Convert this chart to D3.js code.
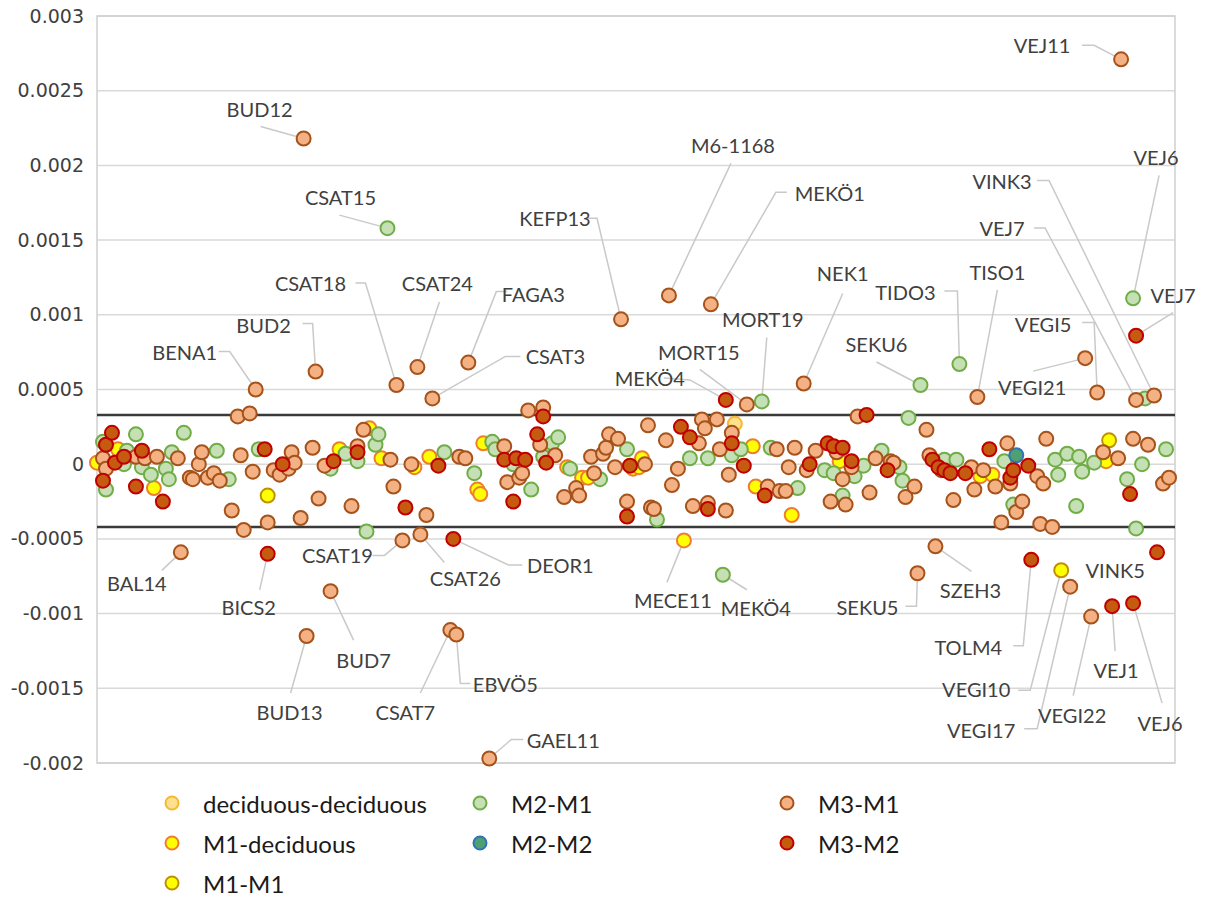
<!DOCTYPE html>
<html>
<head>
<meta charset="utf-8">
<script src="https://cdn.jsdelivr.net/npm/d3@7"></script>
<style>
  body { margin: 0; background: #fff; }
  .tick-label { font-family: 'DejaVu Sans', sans-serif; font-size: 19px; fill: #404040; }
  .note { font-family: Lato, 'Open Sans', sans-serif; font-size: 20px; fill: #404040; }
  .legend-text { font-family: Lato, 'Open Sans', sans-serif; font-size: 24px; fill: #1a1a1a; }
</style>
</head>
<body>
<script>
// series names, in legend order
var seriesNames = ['deciduous-deciduous', 'M1-deciduous', 'M1-M1', 'M2-M1', 'M2-M2', 'M3-M1', 'M3-M2'];

// [specimen index, value]
var decDec = [[213, 0.00027]];
var m1Dec = [[0, 0.00001], [7, 0.0001], [19, -0.00016], [81, 0.0001], [91, 0.00024], [95, 0.00004], [106, -0.00002],
  [111, 0.00005], [127, -0.00017], [128, -0.0002], [129, 0.00014], [157, -0.00002], [162, -0.00009], [164, -0.00009],
  [179, -0.00003], [181, -0.00002], [182, 0.00004], [196, -0.00051], [219, 0.00012], [220, -0.00015], [232, -0.00034],
  [248, 0.00002], [295, -0.00008], [299, -0.00007], [337, 0.00002]];
var m1m1 = [[57, -0.00021], [322, -0.00071], [338, 0.00016]];
var m2m1 = [[2, 0.00015], [3, -0.00017], [9, 0], [10, 0.00009], [13, 0.0002], [15, -0.00002], [18, -0.00007],
  [23, -0.00003], [24, -0.0001], [25, 0.00008], [29, 0.00021], [40, 0.00009], [44, -0.0001], [54, 0.0001],
  [78, -0.00003], [83, 0.00007], [87, 0.00002], [90, -0.00045], [93, 0.00013], [94, 0.0002], [97, 0.00158],
  [116, 0.00008], [126, -0.00006], [132, 0.00015], [133, 0.0001], [139, 0], [145, -0.00017], [149, 0.00005],
  [152, 0.00014], [154, 0.00018], [158, -0.00003], [168, -0.0001], [177, 0.0001], [187, -0.00037], [198, 0.00004],
  [204, 0.00004], [209, -0.00074], [212, 0.00006], [215, 0.0001], [222, 0.00042], [225, 0.00011], [234, -0.00016],
  [243, -0.00004], [246, -0.00006], [249, -0.00021], [253, -0.00008], [256, -0.00001], [262, 0.00009], [268, -0.00002],
  [269, -0.00011], [271, 0.00031], [275, 0.00053], [283, 0.00003], [287, 0.00003], [288, 0.00067], [303, 0.00002],
  [306, -0.00027], [320, 0.00003], [321, -0.00007], [324, 0.00007], [327, -0.00028], [328, 0.00005], [329, -0.00005],
  [333, 0.00001], [344, -0.0001], [346, 0.00111], [347, -0.00043], [349, 0], [350, 0.00044], [357, 0.0001]];
var m2m2 = [[307, 0.00006]];
var m3m1 = [[2, 0.00004], [3, -0.00003], [13, 0.00005], [16, 0.00004], [20, 0.00005], [27, 0.00004], [28, -0.00059],
  [31, -0.00009], [32, -0.0001], [34, 0], [35, 0.00008], [37, -0.00009], [39, -0.00006], [41, -0.00011], [45, -0.00031],
  [47, 0.00032], [48, 0.00006], [49, -0.00044], [51, 0.00034], [52, -0.00005], [53, 0.0005], [57, -0.00039],
  [59, -0.00004], [61, -0.00007], [64, -0.00003], [65, 0.00008], [66, 0.00001], [68, -0.00036], [69, 0.00218],
  [70, -0.00115], [72, 0.00011], [73, 0.00062], [74, -0.00023], [76, -0.00001], [78, -0.00085], [85, -0.00028],
  [87, 0.00012], [89, 0.00023], [98, 0.00003], [99, -0.00015], [100, 0.00053], [102, -0.00051], [105, 0],
  [107, 0.00065], [108, -0.00047], [110, -0.00034], [112, 0.00044], [118, -0.00111], [120, -0.00114], [121, 0.00005],
  [123, 0.00004], [124, 0.00068], [131, -0.00197], [136, 0.00012], [137, -0.00012], [141, -0.00009], [142, -0.00006],
  [144, 0.00036], [148, 0.00013], [149, 0.00038], [153, 0.00006], [156, -0.00022], [160, -0.00016], [161, -0.00021],
  [165, 0.00005], [166, -0.00006], [169, 0.00007], [170, 0.00011], [171, 0.0002], [173, -0.00002], [174, 0.00017],
  [175, 0.00097], [177, -0.00025], [183, 0], [184, 0.00026], [185, -0.00029], [186, -0.0003], [190, 0.00016],
  [191, 0.00113], [192, -0.00014], [194, -0.00003], [199, -0.00028], [201, 0.00014], [202, 0.0003], [203, 0.00024],
  [204, -0.00026], [205, 0.00107], [207, 0.0003], [208, 0.0001], [210, -0.00031], [211, -0.00007], [212, 0.00021],
  [217, 0.0004], [224, -0.00015], [227, 0.0001], [228, -0.00018], [230, -0.00018], [231, -0.00002], [233, 0.00011],
  [236, 0.00054], [237, -0.00004], [240, 0.00009], [245, -0.00025], [247, 0.00008], [249, -0.0001], [250, -0.00027],
  [252, -0.00002], [254, 0.00032], [258, -0.00019], [260, 0.00004], [265, 0.00002], [266, 0.00001], [270, -0.00022],
  [273, -0.00015], [274, -0.00073], [277, 0.00023], [278, 0.00006], [280, -0.00055], [282, -0.00004], [286, -0.00024],
  [292, -0.00002], [293, -0.00017], [294, 0.00045], [296, -0.00004], [300, -0.00015], [302, -0.00039], [304, 0.00014],
  [305, -0.00013], [307, -0.00032], [309, -0.00025], [314, -0.00008], [315, -0.0004], [316, -0.00013], [317, 0.00017],
  [319, -0.00042], [325, -0.00082], [330, 0.00071], [332, -0.00102], [334, 0.00048], [336, 0.00008], [341, 0.00004],
  [342, 0.00271], [346, 0.00017], [347, 0.00043], [351, 0.00013], [353, 0.00046], [356, -0.00013], [358, -0.00009]];
var m3m2 = [[2, -0.00011], [3, 0.00013], [5, 0.00021], [6, 0.00001], [9, 0.00005], [13, -0.00015], [15, 0.00009],
  [22, -0.00025], [56, 0.0001], [57, -0.0006], [62, 0], [79, 0.00002], [87, 0.00008], [103, -0.00029], [114, -0.00001],
  [119, -0.0005], [136, 0.00003], [139, -0.00025], [140, 0.00004], [143, 0.00003], [147, 0.0002], [149, 0.00032],
  [150, 0.00001], [177, -0.00035], [178, -0.00001], [195, 0.00025], [198, 0.00018], [204, -0.0003], [210, 0.00043],
  [212, 0.00014], [216, -0.00001], [223, -0.00021], [238, 0], [244, 0.00014], [246, 0.00012], [249, 0.00011],
  [252, 0.00002], [257, 0.00033], [264, -0.00004], [279, 0.00003], [281, -0.00002], [283, -0.00004], [285, -0.00006],
  [290, -0.00006], [298, 0.0001], [305, -0.00009], [306, -0.00004], [311, -0.00001], [312, -0.00064], [339, -0.00095],
  [345, -0.0002], [346, -0.00093], [347, 0.00086], [354, -0.00059]];
var allSeries = [decDec, m1Dec, m1m1, m2m1, m2m2, m3m1, m3m2];

var yTicks = [-0.002, -0.0015, -0.001, -0.0005, 0, 0.0005, 0.001, 0.0015, 0.002, 0.0025, 0.003];
var tickLabels = ['-0.002', '-0.0015', '-0.001', '-0.0005', '0', '0.0005', '0.001', '0.0015', '0.002', '0.0025', '0.003'];
var limitValues = [0.00033, -0.00042];

// labelled specimens: name, then [index, value] of the point it marks
var noteNames = ['VEJ11', 'BUD12', 'CSAT15', 'KEFP13', 'M6-1168', 'MEKÖ1', 'CSAT18', 'CSAT24', 'FAGA3', 'BUD2',
  'BENA1', 'CSAT3', 'MORT19', 'MORT15', 'MEKÖ4', 'NEK1', 'TIDO3', 'TISO1', 'SEKU6', 'VEJ6', 'VINK3', 'VEJ7', 'VEJ7',
  'VEGI5', 'VEGI21', 'BAL14', 'BICS2', 'CSAT19', 'CSAT26', 'DEOR1', 'BUD7', 'BUD13', 'CSAT7', 'EBVÖ5', 'GAEL11',
  'MECE11', 'MEKÖ4', 'SEKU5', 'SZEH3', 'TOLM4', 'VEGI10', 'VEGI17', 'VEGI22', 'VEJ1', 'VEJ6', 'VINK5'];
var notePoints = [[342, 0.00271], [69, 0.00218], [97, 0.00158], [175, 0.00097], [191, 0.00113], [205, 0.00107],
  [100, 0.00053], [107, 0.00065], [124, 0.00068], [73, 0.00062], [53, 0.0005], [112, 0.00044], [222, 0.00042],
  [217, 0.0004], [210, 0.00043], [236, 0.00054], [288, 0.00067], [294, 0.00045], [275, 0.00053], [346, 0.00111],
  [353, 0.00046], [347, 0.00043], [347, 0.00086], [334, 0.00048], [330, 0.00071], [28, -0.00059], [57, -0.0006],
  [102, -0.00051], [108, -0.00047], [119, -0.0005], [78, -0.00085], [70, -0.00115], [118, -0.00111], [120, -0.00114],
  [131, -0.00197], [196, -0.00051], [209, -0.00074], [274, -0.00073], [280, -0.00055], [312, -0.00064],
  [322, -0.00071], [325, -0.00082], [332, -0.00102], [339, -0.00095], [346, -0.00093], [322, -0.00071]];

// label placement, offsets from the point in px: label centre, then leader vertices
var noteLayout = [
  [[-79, -14], [[-39, -14], [-27, -14]]],
  [[-44, -30], [[-43, -12]]],
  [[-47, -31], [[-48, -13]]],
  [[-66, -101], [[-34, -101], [-24, -101]]],
  [[64, -150], [[62, -132]]],
  [[119, -111], [[76, -112], [65, -112]]],
  [[-86, -102], [[-41, -102], [-31, -102]]],
  [[20, -84], [[22, -65]]],
  [[65, -69], [[39, -71], [28, -71]]],
  [[-52, -47], [[-13, -48], [-3, -48]]],
  [[-71, -38], [[-37, -38], [-26, -38]]],
  [[123, -42], [[88, -42], [73, -42]]],
  [[1, -82], [[5, -64]]],
  [[-48, -52], [[-47, -35]]],
  [[-76, -22], [[-62, -22], [-36, -20]]],
  [[39, -111], [[39, -90]]],
  [[-54, -72], [[-15, -73], [-2, -73]]],
  [[20, -125], [[20, -107]]],
  [[-44, -41], [[-44, -23]]],
  [[23, -141], [[26, -123]]],
  [[-152, -214], [[-117, -215], [-105, -215]]],
  [[-134, -172], [[-102, -172], [-91, -172]]],
  [[37, -41], [[37, -23]]],
  [[-54, -68], [[-15, -70], [-3, -70]]],
  [[-53, 29], [[-52, 13]]],
  [[-44, 31], [[-19, 18]]],
  [[-19, 53], [[-8, 36]]],
  [[-65, 15], [[-30, 15], [-18, 15]]],
  [[45, 44], [[24, 28]]],
  [[107, 26], [[69, 26], [55, 26]]],
  [[33, 69], [[23, 49]]],
  [[-17, 76], [[-16, 57]]],
  [[-45, 82], [[-30, 63]]],
  [[49, 49], [[14, 49], [4, 49]]],
  [[74, -19], [[34, -19], [22, -19]]],
  [[-11, 60], [[-17, 42]]],
  [[33, 33], [[24, 15]]],
  [[-50, 34], [[-12, 33], [-1, 33]]],
  [[35, 44], [[36, 25]]],
  [[-63, 87], [[-18, 86], [-8, 86]]],
  [[-85, 119], [[-43, 120], [-31, 120]]],
  [[-89, 143], [[-46, 142], [-33, 142]]],
  [[-19, 98], [[-18, 79]]],
  [[4, 64], [[3, 45]]],
  [[27, 120], [[29, 100]]],
  [[54, 0], []]
];

var fills = ['#FFE08C', '#FFFF00', '#FFFF00', '#C5E0B4', '#4EA072', '#F4B183', '#C55A11'];
var strokes = ['#F7B733', '#ED7D31', '#BF9000', '#70AD47', '#2E75B6', '#A5521B', '#C00000'];

var W = 1211, H = 901;
var svg = d3.select('body').append('svg').attr('width', W).attr('height', H);

var x = d3.scaleLinear().domain([0, 360]).range([97, 1175]);
var y = d3.scaleLinear().domain([-0.002, 0.003]).range([763, 16]);

// gridlines
svg.append('g').selectAll('line').data(yTicks).enter().append('line')
  .attr('x1', 97).attr('x2', 1175)
  .attr('y1', function(d) { return y(d); }).attr('y2', function(d) { return y(d); })
  .attr('stroke', '#D9D9D9').attr('stroke-width', 1.5);
// frame
svg.append('rect').attr('x', 97).attr('y', 16).attr('width', 1175 - 97).attr('height', 763 - 16)
  .attr('fill', 'none').attr('stroke', '#CFCFCF').attr('stroke-width', 1.5);

// y axis labels
var yAxis = d3.axisLeft(y).tickValues(yTicks).tickSize(0).tickPadding(13)
  .tickFormat(function(d, i) { return tickLabels[i]; });
var ya = svg.append('g').attr('transform', 'translate(97,0)').call(yAxis);
ya.select('.domain').remove();
ya.selectAll('text').attr('class', 'tick-label').attr('font-family', null).attr('font-size', null).attr('fill', null);

// limit lines
svg.append('g').selectAll('line').data(limitValues).enter().append('line')
  .attr('x1', 97).attr('x2', 1175)
  .attr('y1', function(d) { return y(d); }).attr('y2', function(d) { return y(d); })
  .attr('stroke', '#3A3A3A').attr('stroke-width', 2.5);

// leader lines
var notes = svg.append('g');
noteLayout.forEach(function(lay, i) {
  var p = notePoints[i];
  var px = x(p[0]), py = y(p[1]);
  if (lay[1].length) {
    var pts = lay[1].map(function(o) { return [px + o[0], py + o[1]]; });
    pts.push([px, py]);
    notes.append('path').attr('d', d3.line()(pts))
      .attr('fill', 'none').attr('stroke', '#C9C9C9').attr('stroke-width', 1.5);
  }
});

// points
allSeries.forEach(function(data, si) {
  svg.append('g').selectAll('circle').data(data).enter().append('circle')
    .attr('cx', function(d) { return x(d[0]); })
    .attr('cy', function(d) { return y(d[1]); })
    .attr('r', 7)
    .attr('fill', fills[si]).attr('stroke', strokes[si]).attr('stroke-width', 2);
});

// labels
noteLayout.forEach(function(lay, i) {
  var p = notePoints[i];
  svg.append('text').attr('class', 'note')
    .attr('x', x(p[0]) + lay[0][0]).attr('y', y(p[1]) + lay[0][1])
    .attr('text-anchor', 'middle').attr('dominant-baseline', 'central')
    .text(noteNames[i]);
});

// legend
var legendCols = [0, 0, 0, 1, 1, 2, 2], legendRows = [0, 1, 2, 0, 1, 0, 1];
var colX = [172, 480, 787], rowY = [803, 843, 883];
var lg = svg.append('g');
seriesNames.forEach(function(name, i) {
  var cx = colX[legendCols[i]], cy = rowY[legendRows[i]];
  lg.append('circle').attr('cx', cx).attr('cy', cy).attr('r', 6.5)
    .attr('fill', fills[i]).attr('stroke', strokes[i]).attr('stroke-width', 2);
  lg.append('text').attr('class', 'legend-text').attr('x', cx + 31).attr('y', cy)
    .attr('dominant-baseline', 'central').text(name);
});
</script>
</body>
</html>
